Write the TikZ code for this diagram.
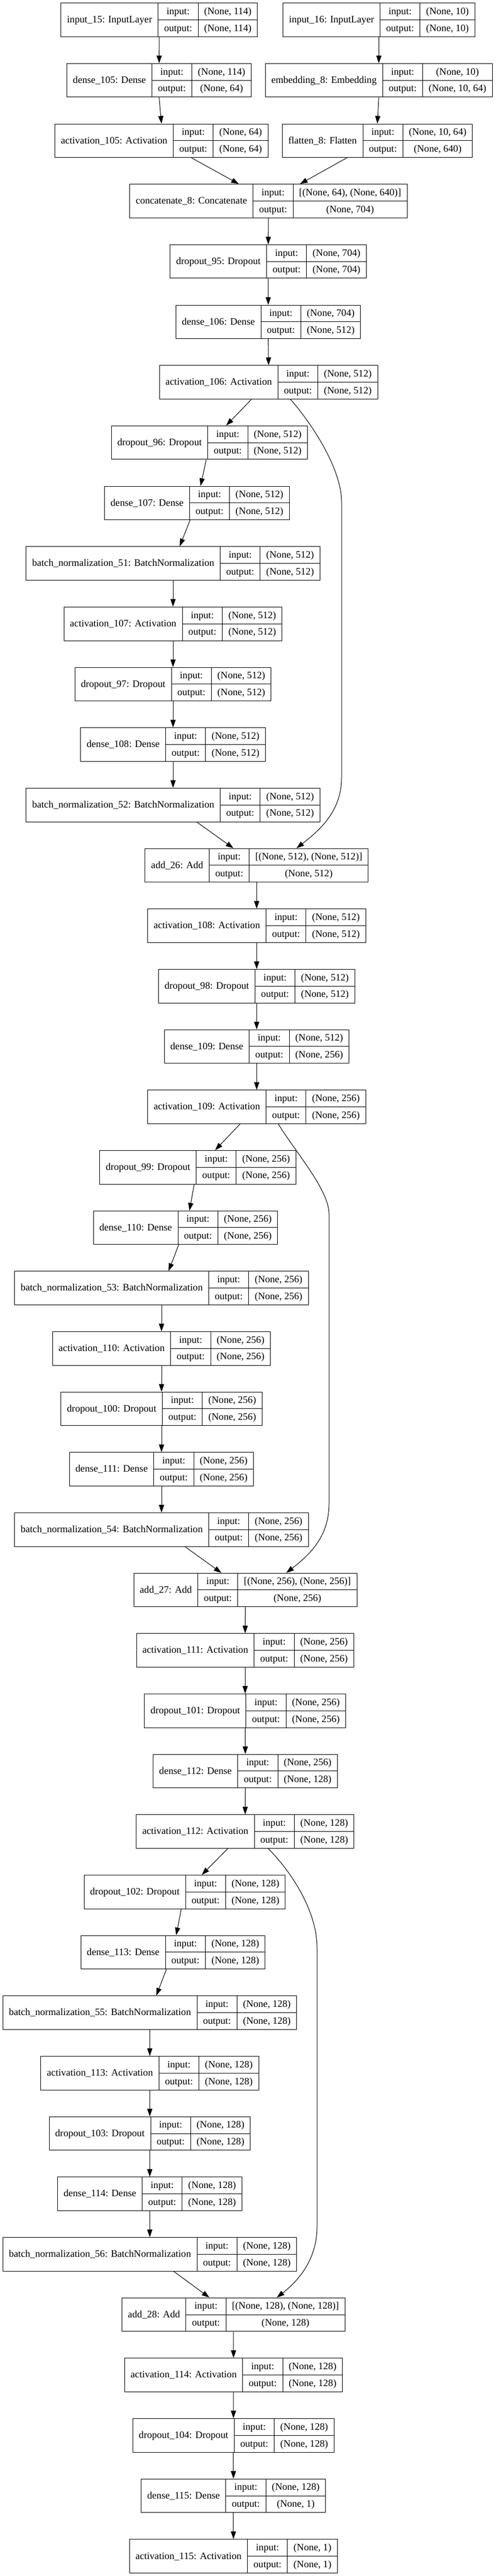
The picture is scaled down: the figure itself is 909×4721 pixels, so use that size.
\documentclass[tikz,border=0pt]{standalone}
\usepackage{fontspec}
\setmainfont{Liberation Serif}
\usetikzlibrary{arrows.meta}

\newcommand{\layerfont}{\fontsize{18.1}{22}\selectfont}
\newlength{\namewd}
\newlength{\iowd}
\newlength{\inwd}
\newlength{\outwd}

\tikzset{
  layerbox/.style={draw, line width=1pt, inner sep=0pt, minimum height=61.6pt},
  cellline/.style={line width=1pt},
  celltext/.style={inner sep=0pt, font=\layerfont, text height=13.4pt, text depth=2.8pt},
  link/.style={line width=1pt, -{Triangle[length=14pt,width=9.5pt]}}
}

% node name, centre x, row, layer, input shape, output shape
\newcommand{\kerasrow}[6]{%
  \pgfinterruptpicture
    \settowidth{\namewd}{\layerfont #4}\global\namewd=\namewd
    \settowidth{\iowd}{\layerfont output:}\global\iowd=\iowd
    \settowidth{\inwd}{\layerfont #5}\global\inwd=\inwd
    \settowidth{\outwd}{\layerfont #6}\global\outwd=\outwd
  \endpgfinterruptpicture
  \pgfmathsetmacro{\cellname}{\namewd+22}%
  \pgfmathsetmacro{\cellio}{\iowd+22}%
  \pgfmathsetmacro{\cellshape}{max(\inwd,\outwd)+22}%
  \pgfmathsetmacro{\cellall}{\cellname+\cellio+\cellshape}%
  \pgfmathsetmacro{\rowtop}{5.7+110.67*#3}%
  \pgfmathsetmacro{\rowleft}{#2-\cellall/2}%
  \node[layerbox, minimum width=\cellall pt] (#1) at (#2,\rowtop+30.8) {};
  \draw[cellline] (\rowleft+\cellname,\rowtop) -- ++(0,61.6)
    (\rowleft+\cellname+\cellio,\rowtop) -- ++(0,61.6)
    (\rowleft+\cellname,\rowtop+30.8) -- (\rowleft+\cellall,\rowtop+30.8);
  \node[celltext] at (\rowleft+\cellname/2,\rowtop+30.8) {#4};
  \node[celltext] at (\rowleft+\cellname+\cellio/2,\rowtop+15.4) {input:};
  \node[celltext] at (\rowleft+\cellname+\cellio/2,\rowtop+46.2) {output:};
  \node[celltext] at (\rowleft+\cellname+\cellio+\cellshape/2,\rowtop+15.4) {#5};
  \node[celltext] at (\rowleft+\cellname+\cellio+\cellshape/2,\rowtop+46.2) {#6};
}

\begin{document}
\begin{tikzpicture}[x=1pt, y=-1pt]
\useasboundingbox (0,0) rectangle (909,4721);

\kerasrow{in15}{291.9}{0}{input\_15: InputLayer}{(None, 114)}{(None, 114)}
\kerasrow{in16}{694.5}{0}{input\_16: InputLayer}{(None, 10)}{(None, 10)}
\kerasrow{dense105}{291.6}{1}{dense\_105: Dense}{(None, 114)}{(None, 64)}
\kerasrow{emb8}{694.2}{1}{embedding\_8: Embedding}{(None, 10)}{(None, 10, 64)}
\kerasrow{act105}{295.9}{2}{activation\_105: Activation}{(None, 64)}{(None, 64)}
\kerasrow{flat8}{691.6}{2}{flatten\_8: Flatten}{(None, 10, 64)}{(None, 640)}
\kerasrow{concat8}{491.9}{3}{concatenate\_8: Concatenate}{[(None, 64), (None, 640)]}{(None, 704)}
\kerasrow{drop95}{491.6}{4}{dropout\_95: Dropout}{(None, 704)}{(None, 704)}
\kerasrow{dense106}{491.6}{5}{dense\_106: Dense}{(None, 704)}{(None, 512)}
\kerasrow{act106}{492.2}{6}{activation\_106: Activation}{(None, 512)}{(None, 512)}
\kerasrow{drop96}{383.8}{7}{dropout\_96: Dropout}{(None, 512)}{(None, 512)}
\kerasrow{dense107}{360.9}{8}{dense\_107: Dense}{(None, 512)}{(None, 512)}
\kerasrow{bn51}{317.1}{9}{batch\_normalization\_51: BatchNormalization}{(None, 512)}{(None, 512)}
\kerasrow{act107}{317.1}{10}{activation\_107: Activation}{(None, 512)}{(None, 512)}
\kerasrow{drop97}{317.1}{11}{dropout\_97: Dropout}{(None, 512)}{(None, 512)}
\kerasrow{dense108}{317.1}{12}{dense\_108: Dense}{(None, 512)}{(None, 512)}
\kerasrow{bn52}{317.1}{13}{batch\_normalization\_52: BatchNormalization}{(None, 512)}{(None, 512)}
\kerasrow{add26}{470.4}{14}{add\_26: Add}{[(None, 512), (None, 512)]}{(None, 512)}
\kerasrow{act108}{470.4}{15}{activation\_108: Activation}{(None, 512)}{(None, 512)}
\kerasrow{drop98}{470.4}{16}{dropout\_98: Dropout}{(None, 512)}{(None, 512)}
\kerasrow{dense109}{470.4}{17}{dense\_109: Dense}{(None, 512)}{(None, 256)}
\kerasrow{act109}{470.4}{18}{activation\_109: Activation}{(None, 256)}{(None, 256)}
\kerasrow{drop99}{362.6}{19}{dropout\_99: Dropout}{(None, 256)}{(None, 256)}
\kerasrow{dense110}{340}{20}{dense\_110: Dense}{(None, 256)}{(None, 256)}
\kerasrow{bn53}{296}{21}{batch\_normalization\_53: BatchNormalization}{(None, 256)}{(None, 256)}
\kerasrow{act110}{296}{22}{activation\_110: Activation}{(None, 256)}{(None, 256)}
\kerasrow{drop100}{296}{23}{dropout\_100: Dropout}{(None, 256)}{(None, 256)}
\kerasrow{dense111}{296}{24}{dense\_111: Dense}{(None, 256)}{(None, 256)}
\kerasrow{bn54}{296}{25}{batch\_normalization\_54: BatchNormalization}{(None, 256)}{(None, 256)}
\kerasrow{add27}{449.6}{26}{add\_27: Add}{[(None, 256), (None, 256)]}{(None, 256)}
\kerasrow{act111}{449.3}{27}{activation\_111: Activation}{(None, 256)}{(None, 256)}
\kerasrow{drop101}{449.3}{28}{dropout\_101: Dropout}{(None, 256)}{(None, 256)}
\kerasrow{dense112}{449.6}{29}{dense\_112: Dense}{(None, 256)}{(None, 128)}
\kerasrow{act112}{449.3}{30}{activation\_112: Activation}{(None, 128)}{(None, 128)}
\kerasrow{drop102}{338.5}{31}{dropout\_102: Dropout}{(None, 128)}{(None, 128)}
\kerasrow{dense113}{317.1}{32}{dense\_113: Dense}{(None, 128)}{(None, 128)}
\kerasrow{bn55}{274.5}{33}{batch\_normalization\_55: BatchNormalization}{(None, 128)}{(None, 128)}
\kerasrow{act113}{274.5}{34}{activation\_113: Activation}{(None, 128)}{(None, 128)}
\kerasrow{drop103}{274.5}{35}{dropout\_103: Dropout}{(None, 128)}{(None, 128)}
\kerasrow{dense114}{274.5}{36}{dense\_114: Dense}{(None, 128)}{(None, 128)}
\kerasrow{bn56}{274.5}{37}{batch\_normalization\_56: BatchNormalization}{(None, 128)}{(None, 128)}
\kerasrow{add28}{427.8}{38}{add\_28: Add}{[(None, 128), (None, 128)]}{(None, 128)}
\kerasrow{act114}{428}{39}{activation\_114: Activation}{(None, 128)}{(None, 128)}
\kerasrow{drop104}{427.8}{40}{dropout\_104: Dropout}{(None, 128)}{(None, 128)}
\kerasrow{dense115}{427.8}{41}{dense\_115: Dense}{(None, 128)}{(None, 1)}
\kerasrow{act115}{427.8}{42}{activation\_115: Activation}{(None, 1)}{(None, 1)}

% inputs
\draw[link] (in15.south) -- (dense105.north);
\draw[link] (in16.south) -- (emb8.north);
\draw[link] (dense105.south) -- (act105.north);
\draw[link] (emb8.south) -- (flat8.north);
\draw[link] ([xshift=54.8pt]act105.south) -- ([xshift=-54.2pt]concat8.north);
\draw[link] ([xshift=-55.7pt]flat8.south) -- ([xshift=57.7pt]concat8.north);
\draw[link] (concat8.south) -- (drop95.north);
\draw[link] (drop95.south) -- (dense106.north);
\draw[link] (dense106.south) -- (act106.north);

% block 1
\draw[link] ([xshift=-31.3pt]act106.south) -- ([xshift=30.7pt]drop96.north);
\draw[link] ([xshift=-5.8pt]drop96.south) -- ([xshift=6.6pt]dense107.north);
\draw[link] ([xshift=-12.5pt]dense107.south) -- ([xshift=12.2pt]bn51.north);
\draw[link] (bn51.south) -- (act107.north);
\draw[link] (act107.south) -- (drop97.north);
\draw[link] (drop97.south) -- (dense108.north);
\draw[link] (dense108.south) -- (bn52.north);
\draw[link] ([xshift=43.5pt]bn52.south) -- ([xshift=-42.6pt]add26.north);
\coordinate (skip1a) at (626,920);
\coordinate (skip1b) at (626,1425);
\draw[link] ([xshift=40pt]act106.south) .. controls +(40,45) and +(0,-60) .. (skip1a) -- (skip1b)
  .. controls +(0,60) and +(45,-35) .. ([xshift=72.9pt]add26.north);
\draw[link] (add26.south) -- (act108.north);
\draw[link] (act108.south) -- (drop98.north);
\draw[link] (drop98.south) -- (dense109.north);
\draw[link] (dense109.south) -- (act109.north);

% block 2
\draw[link] ([xshift=-30.4pt]act109.south) -- ([xshift=31.6pt]drop99.north);
\draw[link] ([xshift=-6.7pt]drop99.south) -- ([xshift=7.2pt]dense110.north);
\draw[link] ([xshift=-12.5pt]dense110.south) -- ([xshift=13pt]bn53.north);
\draw[link] (bn53.south) -- (act110.north);
\draw[link] (act110.south) -- (drop100.north);
\draw[link] (drop100.south) -- (dense111.north);
\draw[link] (dense111.south) -- (bn54.north);
\draw[link] ([xshift=43.1pt]bn54.south) -- ([xshift=-43.8pt]add27.north);
\coordinate (skip2a) at (603,2225);
\coordinate (skip2b) at (603,2755);
\draw[link] ([xshift=39.7pt]act109.south) .. controls +(30,50) and +(0,-45) .. (skip2a) -- (skip2b)
  .. controls +(0,60) and +(45,-35) .. ([xshift=75pt]add27.north);
\draw[link] (add27.south) -- (act111.north);
\draw[link] (act111.south) -- (drop101.north);
\draw[link] (drop101.south) -- (dense112.north);
\draw[link] (dense112.south) -- (act112.north);

% block 3
\draw[link] ([xshift=-31.9pt]act112.south) -- ([xshift=31.3pt]drop102.north);
\draw[link] ([xshift=-6.3pt]drop102.south) -- ([xshift=5.8pt]dense113.north);
\draw[link] ([xshift=-12.2pt]dense113.south) -- ([xshift=11.9pt]bn55.north);
\draw[link] (bn55.south) -- (act113.north);
\draw[link] (act113.south) -- (drop103.north);
\draw[link] (drop103.south) -- (dense114.north);
\draw[link] (dense114.south) -- (bn56.north);
\draw[link] ([xshift=43.8pt]bn56.south) -- ([xshift=-44pt]add28.north);
\coordinate (skip3a) at (581,3570);
\coordinate (skip3b) at (581,4081);
\draw[link] ([xshift=42.3pt]act112.south) .. controls +(40,40) and +(0,-70) .. (skip3a) -- (skip3b)
  .. controls +(0,55) and +(45,-35) .. ([xshift=79.4pt]add28.north);
\draw[link] (add28.south) -- (act114.north);
\draw[link] (act114.south) -- (drop104.north);
\draw[link] (drop104.south) -- (dense115.north);
\draw[link] (dense115.south) -- (act115.north);

\end{tikzpicture}
\end{document}
